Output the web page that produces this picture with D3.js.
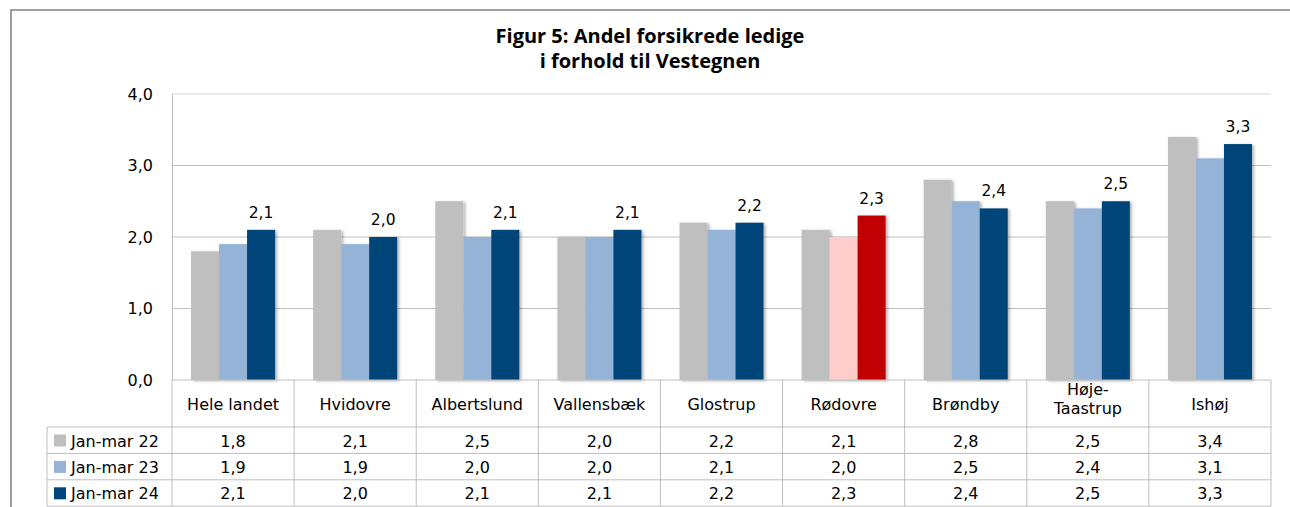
<!DOCTYPE html>
<html>
<head>
<meta charset="utf-8">
<script src="https://cdn.jsdelivr.net/npm/d3@7/dist/d3.min.js"></script>
<style>
  body { margin: 0; background: #fff; }
  text { font-family: "DejaVu Sans", Verdana, sans-serif; fill: #000; }
  .title { font-family: "Open Sans", sans-serif; font-weight: bold; font-size: 20px; }
</style>
</head>
<body>
<div id="container"></div>
<script>
var WIDTH = 1290,
	HEIGHT = 507,
	PLOT_LEFT = 172,
	PLOT_RIGHT = 1271,
	PLOT_TOP = 94,
	PLOT_BOTTOM = 380,
	TABLE_LEFT = 47,
	HEADER_BOTTOM = 427,
	ROW_H = 26.4;

var titleLines = ["Figur 5: Andel forsikrede ledige", "i forhold til Vestegnen"];
var categories = ["Hele landet", "Hvidovre", "Albertslund", "Vallensbæk", "Glostrup", "Rødovre", "Brøndby", "Høje-Taastrup", "Ishøj"];
var seriesNames = ["Jan-mar 22", "Jan-mar 23", "Jan-mar 24"];
var values22 = [1.8, 2.1, 2.5, 2.0, 2.2, 2.1, 2.8, 2.5, 3.4];
var values23 = [1.9, 1.9, 2.0, 2.0, 2.1, 2.0, 2.5, 2.4, 3.1];
var values24 = [2.1, 2.0, 2.1, 2.1, 2.2, 2.3, 2.4, 2.5, 3.3];
var yTicks = [0, 1, 2, 3, 4];
var highlightCategory = "Rødovre";

var seriesValues = [values22, values23, values24];
var colors = ["#bfbfbf", "#95b3d7", "#00457a"];
var highlightColors = ["#bfbfbf", "#ffcccc", "#c00000"];

var locale = d3.formatLocale({ decimal: ",", thousands: ".", grouping: [3], currency: ["", " kr"] });
var fmt = locale.format(".1f");

var x0 = d3.scaleBand().domain(categories).range([PLOT_LEFT, PLOT_RIGHT]);
var x1 = d3.scaleBand().domain(d3.range(seriesNames.length)).range([0, x0.bandwidth()]).paddingOuter(0.68);
var yScale = d3.scaleLinear().domain([0, 4]).range([PLOT_BOTTOM, PLOT_TOP]);

var translate = function (x, y) {
	return "translate(" + x + "," + y + ")";
};

var svg = d3.select('#container').append('svg')
	.attr('width', WIDTH)
	.attr('height', HEIGHT);

var defs = svg.append('defs');
var shadow = defs.append('filter').attr('id', 'shadow')
	.attr('x', '-20%').attr('y', '-10%').attr('width', '150%').attr('height', '120%');
shadow.append('feDropShadow')
	.attr('dx', 2).attr('dy', 1).attr('stdDeviation', 1.5)
	.attr('flood-color', '#000').attr('flood-opacity', 0.3);

// outer frame
svg.append('path')
	.attr('d', 'M11,' + HEIGHT + 'V10H' + WIDTH)
	.attr('fill', 'none')
	.attr('stroke', '#7f7f7f')
	.attr('stroke-width', 1.5);

// title
svg.selectAll('.title').data(titleLines).enter()
	.append('text')
	.attr('class', 'title')
	.attr('x', 650)
	.attr('y', function (d, i) { return 43 + i * 25; })
	.attr('text-anchor', 'middle')
	.text(function (d) { return d; });

// gridlines
svg.append('g').selectAll('line').data(yTicks.slice(1)).enter()
	.append('line')
	.attr('x1', PLOT_LEFT).attr('x2', PLOT_RIGHT)
	.attr('y1', function (d) { return yScale(d); })
	.attr('y2', function (d) { return yScale(d); })
	.attr('stroke', function (d) { return d === 4 ? '#d4d4d4' : '#bfbfbf'; })
	.attr('stroke-width', 1);

// y axis
var yAxis = d3.axisLeft(yScale).tickValues(yTicks).tickFormat(fmt).tickSize(0).tickPadding(19);
var gy = svg.append('g')
	.attr('transform', translate(PLOT_LEFT, 0))
	.call(yAxis);
gy.select('.domain').attr('stroke', '#bfbfbf');
gy.selectAll('text').attr('font-size', '16px').attr('font-family', '"DejaVu Sans", Verdana, sans-serif').attr('fill', '#000');

// bars
var groups = svg.append('g').selectAll('g').data(categories).enter()
	.append('g')
	.attr('transform', function (d) { return translate(x0(d), 0); });

groups.selectAll('rect')
	.data(function (cat, ci) {
		return seriesValues.map(function (vals, si) { return { cat: cat, s: si, v: vals[ci] }; });
	})
	.enter().append('rect')
	.attr('x', function (d) { return x1(d.s); })
	.attr('width', x1.bandwidth())
	.attr('y', function (d) { return yScale(d.v); })
	.attr('height', function (d) { return yScale(0) - yScale(d.v); })
	.attr('fill', function (d) { return d.cat === highlightCategory ? highlightColors[d.s] : colors[d.s]; })
	.attr('filter', 'url(#shadow)');

// data labels on latest series
groups.append('text')
	.attr('x', x1(2) + x1.bandwidth() / 2)
	.attr('y', function (d, i) { return yScale(values24[i]) - 12; })
	.attr('text-anchor', 'middle')
	.attr('font-size', '15.5px')
	.text(function (d, i) { return fmt(values24[i]); });

// x axis line
svg.append('line')
	.attr('x1', PLOT_LEFT).attr('x2', PLOT_RIGHT)
	.attr('y1', PLOT_BOTTOM).attr('y2', PLOT_BOTTOM)
	.attr('stroke', '#bfbfbf');

// data table
var table = svg.append('g').attr('stroke', '#bfbfbf').attr('stroke-width', 1);
var tableBottom = HEADER_BOTTOM + ROW_H * seriesNames.length;
var boundaries = categories.map(function (c) { return x0(c); }).concat([PLOT_RIGHT]);

table.selectAll('.vline').data(boundaries).enter()
	.append('line')
	.attr('x1', function (d) { return d; }).attr('x2', function (d) { return d; })
	.attr('y1', PLOT_BOTTOM).attr('y2', tableBottom);

table.append('line')
	.attr('x1', TABLE_LEFT).attr('x2', TABLE_LEFT)
	.attr('y1', HEADER_BOTTOM).attr('y2', tableBottom);

table.selectAll('.hline').data(d3.range(seriesNames.length + 1)).enter()
	.append('line')
	.attr('x1', TABLE_LEFT).attr('x2', PLOT_RIGHT)
	.attr('y1', function (i) { return HEADER_BOTTOM + i * ROW_H; })
	.attr('y2', function (i) { return HEADER_BOTTOM + i * ROW_H; });

// category headers
var headers = svg.append('g').selectAll('text').data(categories).enter()
	.append('text')
	.attr('text-anchor', 'middle')
	.attr('font-size', '16px')
	.attr('x', function (d) { return x0(d) + x0.bandwidth() / 2; })
	.attr('y', function (d) { return d.indexOf('-') > 0 ? 395 : 410; });

headers.each(function (d) {
	var parts = d.indexOf('-') > 0 ? [d.slice(0, d.indexOf('-') + 1), d.slice(d.indexOf('-') + 1)] : [d];
	var t = d3.select(this);
	parts.forEach(function (p, i) {
		t.append('tspan')
			.attr('x', x0(d) + x0.bandwidth() / 2)
			.attr('dy', i === 0 ? 0 : 18.5)
			.text(p);
	});
});

// table rows: legend keys, names and values
seriesNames.forEach(function (name, si) {
	var base = HEADER_BOTTOM + si * ROW_H + 19.5;
	svg.append('rect')
		.attr('x', 54).attr('y', base - 12)
		.attr('width', 12).attr('height', 12)
		.attr('fill', colors[si]);
	svg.append('text')
		.attr('x', 71).attr('y', base)
		.attr('font-size', '16px')
		.text(name);
	svg.append('g').selectAll('text').data(seriesValues[si]).enter()
		.append('text')
		.attr('x', function (d, i) { return x0(categories[i]) + x0.bandwidth() / 2; })
		.attr('y', base)
		.attr('text-anchor', 'middle')
		.attr('font-size', '16px')
		.text(function (d) { return fmt(d); });
});
</script>
</body>
</html>
